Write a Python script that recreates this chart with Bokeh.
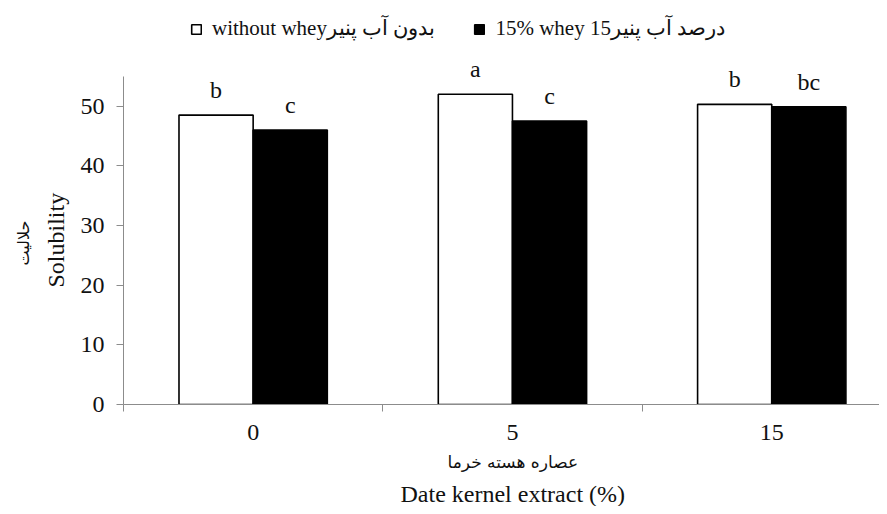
from bokeh.plotting import figure
from bokeh.models import (Range1d, FixedTicker, Legend, LegendItem, Title,
                          ColumnDataSource, LabelSet)
from bokeh.embed import file_html
from bokeh.resources import INLINE

# ---- data ----
categories = ["0", "5", "15"]
without_whey = [48.5, 52.0, 50.3]
whey_15 = [46.0, 47.5, 49.9]
letters_without = ["b", "a", "b"]
letters_whey = ["c", "c", "bc"]
series_names = ["without wheyبدون آب پنیر", "15% whey 15درصد آب پنیر"]
y_ticks = [0, 10, 20, 30, 40, 50]
y_axis_max = 55
y_title_en = "Solubility"
y_title_fa = "حلالیت"
x_title_en = "Date kernel extract (%)"
x_title_fa = "عصاره هسته خرما"

FONT = "Liberation Serif"
FA_FONT = "DejaVu Sans"
AXIS_GRAY = "#8c8c8c"
TXT = "#111111"
BAR_W = 0.286

# layout (pixels)
W, H = 879, 506
LEFT, TOP, BOTTOM = 123, 6, 101
AXIS_TOP_PX = 76          # where the y axis (value 55) ends
frame_h = H - TOP - BOTTOM
px_per_unit = (H - BOTTOM - AXIS_TOP_PX) / y_axis_max
cat_px = 259.3

n = len(categories)
idx = list(range(n))
x_white = [i + 0.5 - BAR_W / 2 for i in idx]
x_black = [i + 0.5 + BAR_W / 2 for i in idx]

src_white = ColumnDataSource(dict(x=x_white, top=without_whey, lab=letters_without))
src_black = ColumnDataSource(dict(x=x_black, top=whey_15, lab=letters_whey))

p = figure(width=W, height=H, output_backend="svg", toolbar_location=None,
           x_range=Range1d(0, (W - LEFT) / cat_px),
           y_range=Range1d(0, frame_h / px_per_unit),
           min_border_left=LEFT, min_border_right=0, min_border_top=TOP,
           min_border_bottom=BOTTOM)
p.title.visible = False
p.outline_line_color = None
p.xgrid.visible = False
p.ygrid.visible = False
p.background_fill_color = "white"
p.border_fill_color = "white"

r1 = p.vbar(x="x", top="top", width=BAR_W, bottom=0, source=src_white,
            fill_color="white", line_color="black", line_width=1.6)
r2 = p.vbar(x="x", top="top", width=BAR_W, bottom=0, source=src_black,
            fill_color="black", line_color="black", line_width=1.6)

for src in (src_white, src_black):
    p.add_layout(LabelSet(x="x", y="top", text="lab", source=src, text_font=FONT,
                          text_font_size="24px", text_color=TXT, text_align="center",
                          text_baseline="alphabetic", y_offset=17))

# x axis
xa = p.xaxis[0]
xa.ticker = FixedTicker(ticks=[i + 0.5 for i in idx], minor_ticks=list(range(n + 1)))
xa.major_label_overrides = {i + 0.5: c for i, c in zip(idx, categories)}
xa.major_tick_line_color = None
xa.major_tick_out = 0
xa.major_tick_in = 0
xa.minor_tick_out = 7
xa.minor_tick_in = 0
xa.minor_tick_line_color = AXIS_GRAY
xa.axis_line_color = AXIS_GRAY
xa.major_label_standoff = 13
xa.major_label_text_font = FONT
xa.major_label_text_font_size = "24px"
xa.major_label_text_color = TXT

# y axis
ya = p.yaxis[0]
ya.ticker = FixedTicker(ticks=y_ticks)
ya.bounds = (0, y_axis_max)
ya.major_tick_out = 7
ya.major_tick_in = 0
ya.minor_tick_line_color = None
ya.major_tick_line_color = AXIS_GRAY
ya.axis_line_color = AXIS_GRAY
ya.major_label_standoff = 12
ya.major_label_text_font = FONT
ya.major_label_text_font_size = "24px"
ya.major_label_text_color = TXT

# axis titles (side panels, stacked outward from the frame)
p.add_layout(Title(text=y_title_en, align="left", offset=117, text_font=FONT,
                   text_font_size="24px", text_font_style="normal",
                   text_color=TXT, standoff=17), "left")
p.add_layout(Title(text=y_title_fa, align="left", offset=139, text_font=FA_FONT,
                   text_font_size="16px", text_font_style="normal",
                   text_color=TXT, standoff=0), "left")
p.add_layout(Title(text=x_title_fa, align="left", offset=324, text_font=FA_FONT,
                   text_font_size="17px", text_font_style="normal",
                   text_color=TXT, standoff=14), "below")
p.add_layout(Title(text=x_title_en, align="left", offset=277, text_font=FONT,
                   text_font_size="24px", text_font_style="normal",
                   text_color=TXT, standoff=0), "below")

legend = Legend(items=[LegendItem(label=series_names[0], renderers=[r1]),
                       LegendItem(label=series_names[1], renderers=[r2])],
                orientation="horizontal", location=(67, H - BOTTOM - 42),
                glyph_width=12, glyph_height=12, label_standoff=10,
                spacing=38, padding=0, margin=0,
                label_text_font="'Liberation Serif', serif", label_text_font_size="21px",
                label_text_color=TXT,
                background_fill_alpha=0, border_line_color=None)
p.add_layout(legend, "center")

open("out.html", "w").write(file_html(p, INLINE))
